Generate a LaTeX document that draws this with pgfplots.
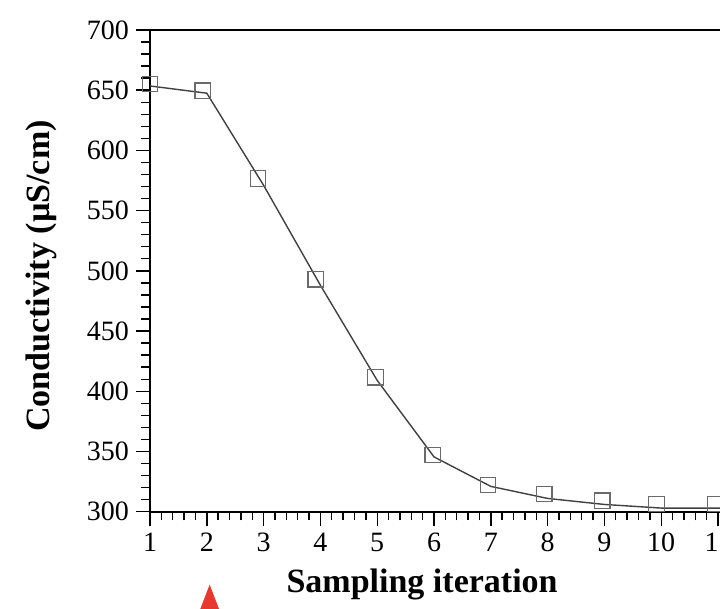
\documentclass[border=0pt]{standalone}
\usepackage{pgfplots}
\pgfplotsset{compat=1.18}
\usepackage{fontspec}
\setmainfont{Liberation Serif}

\definecolor{linegray}{HTML}{404040}
\definecolor{markgray}{HTML}{6A6A6A}
\definecolor{tri}{HTML}{E8382C}

\begin{document}
\begin{tikzpicture}
\begin{axis}[
  scale only axis,
  width=298.2pt, height=240.85pt,
  xmin=1, xmax=11.5,
  ymin=300, ymax=700,
  xtick={1,2,...,11}, ytick={300,350,...,700},
  minor x tick num=4, minor y tick num=4,
  tick pos=left, tick align=outside,
  major tick length=7pt, minor tick length=4.3pt,
  every tick/.style={black, line width=0.7pt},
  axis line style={line width=1pt},
  ticklabel style={font=\fontsize{14}{14}\selectfont},
  /pgf/number format/assume math mode=true,
  /pgf/number format/1000 sep={},
  clip=false,
  xlabel={\fontsize{17}{17}\selectfont\bfseries Sampling iteration},
  xlabel style={at={(axis cs:5.79,232.5)}, anchor=base},
  ylabel={\fontsize{17}{17}\selectfont\bfseries Conductivity (µS/cm)},
  ylabel style={at={(axis cs:-0.778,495.7)}, anchor=base, rotate=0},
]
% fitted line
\addplot[linegray, line width=0.7pt, mark=none] coordinates {
  (1,653.5)(2,647.5)(3,571)(4,488)(5,409)(6,345.5)(7,321)(8,311)(9,306)(10,303)(11,303)(11.5,303)
};
% measured points
\addplot[only marks, mark=square, mark size=3.9pt, mark options={markgray, line width=0.6pt}] coordinates {
  (1.0,655.1)(1.93,649.5)(2.90,576.7)(3.92,493)(4.97,411.7)(5.98,347.1)
  (6.95,322.2)(7.94,314.7)(8.96,309.1)(9.92,306.3)(10.95,306.3)
};
% stray red marker below the axis
\addplot[only marks, mark=triangle*, mark size=6pt, mark options={tri, draw=tri, yscale=1.5}] coordinates {(2.05,223.5)};
\coordinate (bbsw) at (axis cs:-1.641,219.2);
\coordinate (bbne) at (axis cs:11.035,724.9);
\end{axis}
\pgfresetboundingbox
\useasboundingbox (bbsw) rectangle (bbne);
\end{tikzpicture}
\end{document}
